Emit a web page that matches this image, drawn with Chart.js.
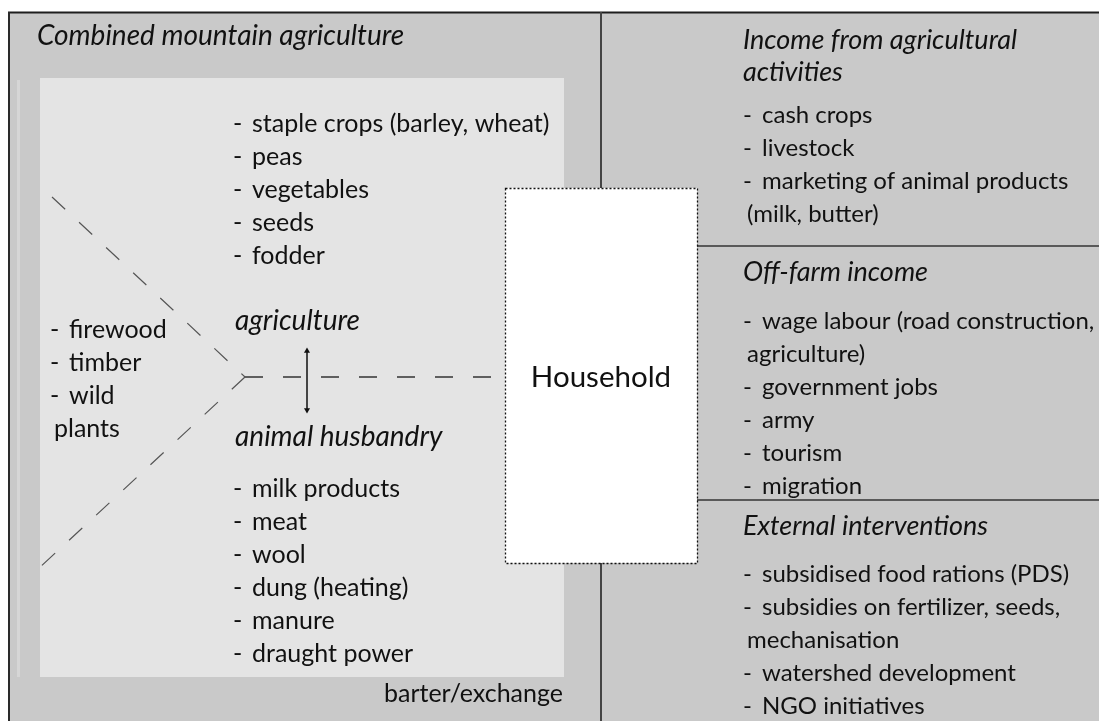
<!DOCTYPE html>
<html>
<head>
<meta charset="utf-8">
<script src="https://cdn.jsdelivr.net/npm/chart.js@4.4.1/dist/chart.umd.min.js"></script>
<style>
  html, body { margin: 0; padding: 0; background: #fff; }
  #wrap { width: 1099px; height: 721px; }
</style>
</head>
<body>
<div id="wrap"><canvas id="diagram" width="1099" height="721"></canvas></div>
<script>
// texts of the diagram
const leftTitle = 'Combined mountain agriculture';
const agriLabel = 'agriculture';
const animalLabel = 'animal husbandry';
const agriItems = [['staple crops (barley, wheat)'], ['peas'], ['vegetables'], ['seeds'], ['fodder']];
const animalItems = [['milk products'], ['meat'], ['wool'], ['dung (heating)'], ['manure'], ['draught power']];
const forestItems = [['firewood'], ['timber'], ['wild', 'plants']];
const barterLabel = 'barter/exchange';
const centreLabel = 'Household';

const incomeTitle = ['Income from agricultural', 'activities'];
const incomeItems = [['cash crops'], ['livestock'], ['marketing of animal products', '(milk, butter)']];
const offFarmTitle = ['Off-farm income'];
const offFarmItems = [['wage labour (road construction,', 'agriculture)'], ['government jobs'], ['army'], ['tourism'], ['migration']];
const externalTitle = ['External interventions'];
const externalItems = [['subsidised food rations (PDS)'], ['subsidies on fertilizer, seeds,', 'mechanisation'], ['watershed development'], ['NGO initiatives']];

// connector lines (diagram units)
const upperBranch = [{x: 52, y: 197}, {x: 245, y: 377}];
const lowerBranch = [{x: 245, y: 377}, {x: 37, y: 570}];
const toHousehold = [{x: 245, y: 377}, {x: 491, y: 377}];
const arrowLine = [{x: 307, y: 351}, {x: 307, y: 410}];

const FONT = 'Lato, "Liberation Sans", sans-serif';
const LINE = 33;

const boxesPlugin = {
  id: 'boxes',
  beforeDatasetsDraw(chart) {
    const {ctx, scales: {x, y}} = chart;
    const rect = (x0, y0, x1, y1, fill) => {
      ctx.fillStyle = fill;
      ctx.fillRect(x.getPixelForValue(x0), y.getPixelForValue(y0),
        x.getPixelForValue(x1) - x.getPixelForValue(x0), y.getPixelForValue(y1) - y.getPixelForValue(y0));
    };
    const line = (x0, y0, x1, y1, col, w) => {
      ctx.beginPath();
      ctx.strokeStyle = col;
      ctx.lineWidth = w;
      ctx.moveTo(x.getPixelForValue(x0), y.getPixelForValue(y0));
      ctx.lineTo(x.getPixelForValue(x1), y.getPixelForValue(y1));
      ctx.stroke();
    };
    ctx.save();
    rect(8, 12, 1099, 721, '#c9c9c9');
    rect(40, 78, 564, 677, '#e4e4e4');
    line(18.5, 80, 18.5, 677, '#d6d6d6', 3);
    line(8, 12.5, 1099, 12.5, '#1e1e1e', 2);
    line(9, 12, 9, 721, '#2a2a2a', 2);
    line(601, 12, 601, 721, '#444', 2);
    line(697, 246, 1099, 246, '#333', 1.5);
    line(697, 500, 1099, 500, '#333', 1.5);
    ctx.restore();
  },
  afterDatasetsDraw(chart) {
    const {ctx, scales: {x, y}} = chart;
    const px = v => x.getPixelForValue(v);
    const py = v => y.getPixelForValue(v);
    ctx.save();
    // household box
    const bx0 = px(505), by0 = py(188), bx1 = px(697), by1 = py(563);
    ctx.fillStyle = '#ffffff';
    ctx.fillRect(bx0, by0, bx1 - bx0, by1 - by0);
    ctx.strokeStyle = '#111';
    ctx.lineWidth = 1.3;
    ctx.setLineDash([2, 2]);
    ctx.strokeRect(bx0 + 0.5, by0 + 0.5, bx1 - bx0, by1 - by0);
    ctx.setLineDash([]);

    ctx.fillStyle = '#111';
    ctx.textBaseline = 'middle';
    const text = (s, tx, ty, size, italic) => {
      ctx.font = (italic ? 'italic ' : '') + size + 'px ' + FONT;
      ctx.fillText(s, px(tx), py(ty));
    };
    const list = (items, dx, ty, size) => {
      items.forEach(item => {
        text('-', dx, ty, size, false);
        text(item[0], dx + 19, ty, size, false);
        ty += LINE;
        for (let k = 1; k < item.length; k++) {
          text(item[k], dx + 4, ty, size, false);
          ty += LINE;
        }
      });
    };

    text(leftTitle, 37, 36, 28, true);
    list(agriItems, 233, 124, 25);
    text(agriLabel, 235, 321, 28, true);
    text(animalLabel, 235, 437, 28, true);
    list(animalItems, 233, 489, 25);
    list(forestItems, 50, 330, 25);
    ctx.textAlign = 'right';
    text(barterLabel, 563, 694, 25, false);

    ctx.textAlign = 'center';
    text(centreLabel, 601, 377, 29.5, false);
    ctx.textAlign = 'left';

    text(incomeTitle[0], 743, 40, 27, true);
    text(incomeTitle[1], 743, 72, 27, true);
    list(incomeItems, 743, 115, 24);
    text(offFarmTitle[0], 743, 272, 27, true);
    list(offFarmItems, 743, 321, 24);
    text(externalTitle[0], 743, 526, 27, true);
    list(externalItems, 743, 574, 24);
    ctx.restore();
  }
};

const lineSet = (data, dash, color, width) => ({
  type: 'line', data, borderColor: color, borderWidth: width, borderDash: dash,
  pointRadius: 0, fill: false, tension: 0
});

new Chart(document.getElementById('diagram'), {
  type: 'scatter',
  data: {
    datasets: [
      lineSet(upperBranch, [18, 19], '#555', 1.2),
      lineSet(lowerBranch, [18, 19], '#555', 1.2),
      lineSet(toHousehold, [18, 20], '#333', 1.3),
      {
        type: 'line', data: arrowLine, borderColor: '#111', borderWidth: 1.5,
        pointStyle: 'triangle', pointRadius: 3.5, pointRotation: [0, 180],
        pointBackgroundColor: '#111', pointBorderColor: '#111', pointBorderWidth: 0, fill: false
      }
    ]
  },
  options: {
    responsive: false,
    animation: false,
    events: [],
    layout: { padding: 0, autoPadding: false },
    plugins: { legend: { display: false }, tooltip: { enabled: false } },
    scales: {
      x: { type: 'linear', display: false, min: 0, max: 1099 },
      y: { type: 'linear', display: false, min: 0, max: 721, reverse: true }
    }
  },
  plugins: [boxesPlugin]
});
</script>
</body>
</html>
